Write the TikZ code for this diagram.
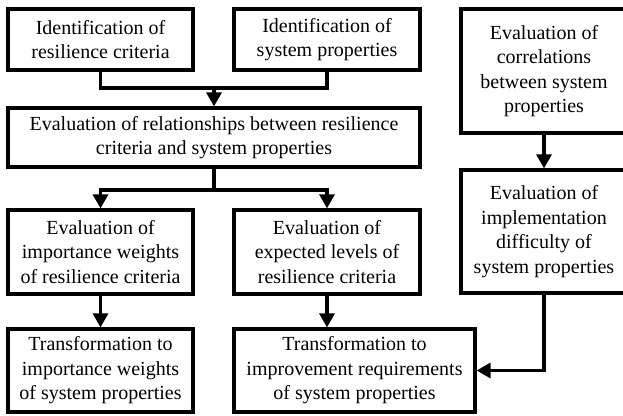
\documentclass[tikz,border=0pt]{standalone}
\usepackage{fontspec}
\setmainfont{Liberation Serif}
\usetikzlibrary{arrows.meta}
\begin{document}
\begin{tikzpicture}[x=1pt,y=-1pt,
  box/.style={draw=black, line width=3.2pt, align=center, inner sep=0pt,
    font=\fontsize{20}{24.5}\selectfont, text=black},
  conn/.style={line width=3.2pt, draw=black},
  arr/.style={conn, -{Triangle[width=15pt,length=14pt]}}]
\useasboundingbox (0,0) rectangle (623,415);
\node[box, minimum width=185pt, minimum height=61pt] (b1) at (100.5,39.5) {Identification of\\resilience criteria};
\node[box, minimum width=186pt, minimum height=61pt] (b2) at (327,39.5) {Identification of\\system properties};
\node[box, minimum width=166pt, minimum height=124pt] (b3) at (544,71) {Evaluation of\\correlations\\between system\\properties};
\node[box, minimum width=412pt, minimum height=59pt] (b4) at (214,137.5) {Evaluation of relationships between resilience\\criteria and system properties};
\node[box, minimum width=185pt, minimum height=84pt] (b5) at (100.5,252) {Evaluation of\\importance weights\\of resilience criteria};
\node[box, minimum width=186pt, minimum height=84pt] (b6) at (327,252) {Evaluation of\\expected levels of\\resilience criteria};
\node[box, minimum width=166pt, minimum height=123pt] (b7) at (544,231.5) {Evaluation of\\implementation\\difficulty of\\system properties};
\node[box, minimum width=185pt, minimum height=83pt] (b8) at (100.5,370.5) {Transformation to\\importance weights\\of system properties};
\node[box, minimum width=241pt, minimum height=83pt] (b9) at (354.5,370.5) {Transformation to\\improvement requirements\\of system properties};
\coordinate (j1) at (214,88);
\coordinate (j2) at (214,190);
\draw[conn] (b1.south) |- (j1) -| (b2.south);
\draw[arr] (j1) -- (b4.north);
\draw[conn] (b4.south) -- (j2);
\draw[arr] (j2) -| (b5.north);
\draw[arr] (j2) -| (b6.north);
\draw[arr] (b5.south) -- (b8.north);
\draw[arr] (b6.south) -- (b6.south |- b9.north);
\draw[arr] (b3.south) -- (b7.north);
\draw[arr] (b7.south) |- (b9.east);
\end{tikzpicture}
\end{document}
